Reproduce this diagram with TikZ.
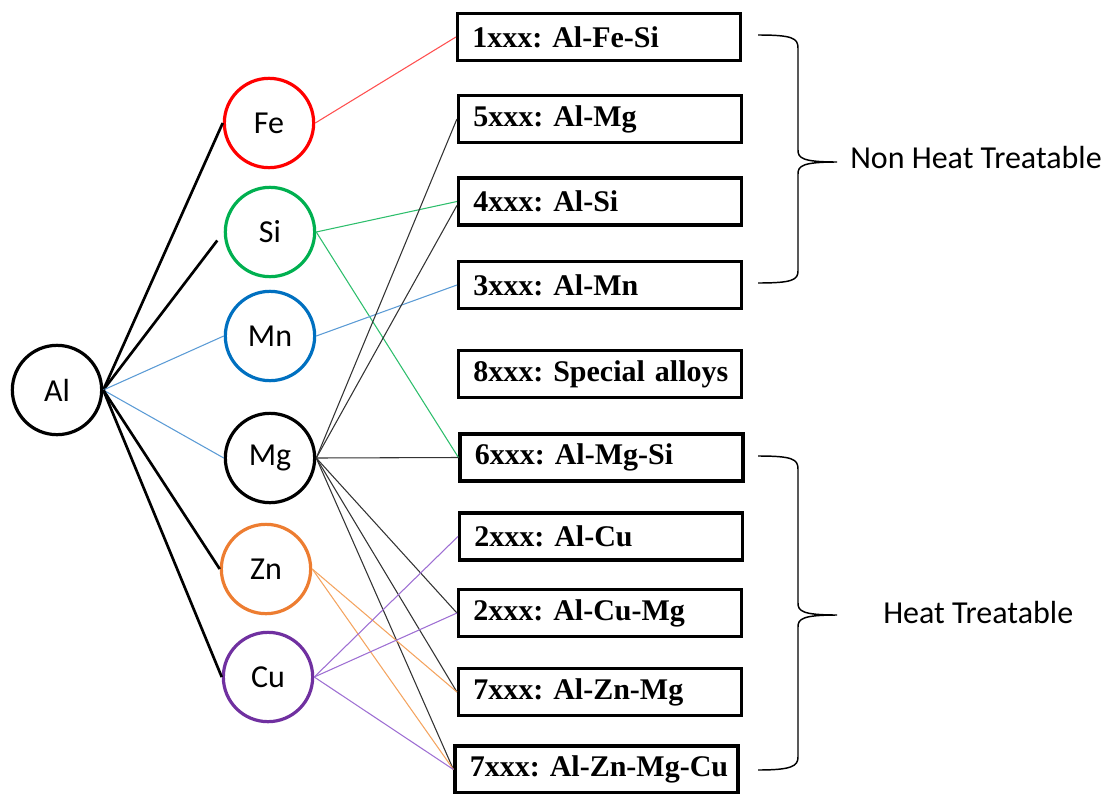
\documentclass[tikz,border=0pt]{standalone}
\usepackage{fontspec}
\setmainfont{Carlito}
\newfontfamily\serieslabel{Liberation Serif}
\frenchspacing
\definecolor{feRed}{HTML}{FF0000}
\definecolor{siGreen}{HTML}{00B050}
\definecolor{mnBlue}{HTML}{0070C0}
\definecolor{znOrange}{HTML}{ED7D31}
\definecolor{cuPurple}{HTML}{7030A0}
\definecolor{lineRed}{HTML}{FF4F4F}
\definecolor{lineGreen}{HTML}{2DBE6C}
\definecolor{lineBlue}{HTML}{5B9BD5}
\definecolor{lineOrange}{HTML}{F4A460}
\definecolor{linePurple}{HTML}{9E6FD3}
\definecolor{lineGrey}{HTML}{333333}
\tikzset{
  element/.style={circle, draw, line width=2.4pt, minimum size=67pt, inner sep=0pt,
                  font=\fontsize{24}{27}\selectfont},
  series/.style={rectangle, draw, line width=2.6pt, minimum height=35pt,
                 text width=190pt, inner xsep=11pt, align=left,
                 font=\serieslabel\bfseries\fontsize{22.5}{25}\selectfont},
  thick link/.style={line width=2pt, black},
  thin link/.style={line width=0.8pt},
  brace/.style={line width=1.1pt, black},
  group label/.style={anchor=west, font=\fontsize{24}{28}\selectfont, inner sep=0pt}
}
\begin{document}
\begin{tikzpicture}[x=0.75pt, y=-0.75pt]
\useasboundingbox (0,0) rectangle (1118,793);

% alloying elements
\node[element] (Al) at (57,390) {Al};
\node[element, draw=feRed]     (Fe) at (269,123) {Fe};
\node[element, draw=siGreen]   (Si) at (270,232) {Si};
\node[element, draw=mnBlue]    (Mn) at (270,336) {Mn};
\node[element]                 (Mg) at (270,458) {Mg};
\node[element, draw=znOrange]  (Zn) at (266,569) {Zn};
\node[element, draw=cuPurple]  (Cu) at (268,677) {Cu};

% alloy series (each name kept on one line)
\node[series] (s1)  at (599,37)    {\mbox{1xxx: Al-Fe-Si}};
\node[series] (s5)  at (600,119)   {\mbox{5xxx: Al-Mg}};
\node[series] (s4)  at (600,201.5) {\mbox{4xxx: Al-Si}};
\node[series] (s3)  at (600,285)   {\mbox{3xxx: Al-Mn}};
\node[series] (s8)  at (600,374)   {\mbox{8xxx: Special alloys}};
\node[series] (s6)  at (601.5,457.5) {\mbox{6xxx: Al-Mg-Si}};
\node[series] (s2a) at (601,536.5) {\mbox{2xxx: Al-Cu}};
\node[series] (s2b) at (600,613)   {\mbox{2xxx: Al-Cu-Mg}};
\node[series] (s7a) at (600,692)   {\mbox{7xxx: Al-Zn-Mg}};
\node[series] (s7b) at (596.5,769.5) {\mbox{7xxx: Al-Zn-Mg-Cu}};

% aluminium to the alloying elements
\draw[thick link] (Al.east) -- (Fe.west);
\draw[thick link, shorten >=8pt] (Al.east) -- (Si.west);
\draw[thin link, lineBlue] (Al.east) -- (Mn.west);
\draw[thin link, lineBlue] (Al.east) -- (Mg.west);
\draw[thick link] (Al.east) -- (Zn.west);
\draw[thick link] (Al.east) -- (Cu.west);

% elements to the series
\draw[thin link, lineRed] (Fe.east) -- (s1.west);
\draw[thin link, lineGreen] (Si.east) -- (s4.west);
\draw[thin link, lineGreen] (Si.east) -- (s6.west);
\draw[thin link, lineBlue] (Mn.east) -- (s3.west);
\draw[thin link, lineGrey] (Mg.east) -- (s5.west);
\draw[thin link, lineGrey] (Mg.east) -- ([yshift=-3pt]s4.west);
\draw[thin link, lineGrey] (Mg.east) -- (s6.west);
\draw[thin link, lineGrey] (Mg.east) -- (s2b.west);
\draw[thin link, lineGrey] (Mg.east) -- (s7a.west);
\draw[thin link, lineGrey] (Mg.east) -- (s7b.west);
\draw[thin link, lineOrange] (Zn.east) -- (s7a.west);
\draw[thin link, lineOrange] (Zn.east) -- (s7b.west);
\draw[thin link, linePurple] (Cu.east) -- (s2a.west);
\draw[thin link, linePurple] (Cu.east) -- (s2b.west);
\draw[thin link, linePurple] (Cu.east) -- (s7b.west);

% grouping braces
\draw[brace] (758,35) .. controls (792,35) and (798,38) .. (798,48)
  -- (798,150) .. controls (798,158) and (802,162) .. (837,162)
  .. controls (802,162) and (798,166) .. (798,174)
  -- (798,271) .. controls (798,280) and (792,283) .. (758,283);
\node[group label] (nht) at (850,158) {Non Heat Treatable};

\draw[brace] (758,456) .. controls (792,456) and (798,459) .. (798,469)
  -- (798,603) .. controls (798,611) and (802,615) .. (837,615)
  .. controls (802,615) and (798,619) .. (798,627)
  -- (798,757) .. controls (798,766) and (792,770) .. (758,770);
\node[group label] (ht) at (883,612) {Heat Treatable};
\end{tikzpicture}
\end{document}
